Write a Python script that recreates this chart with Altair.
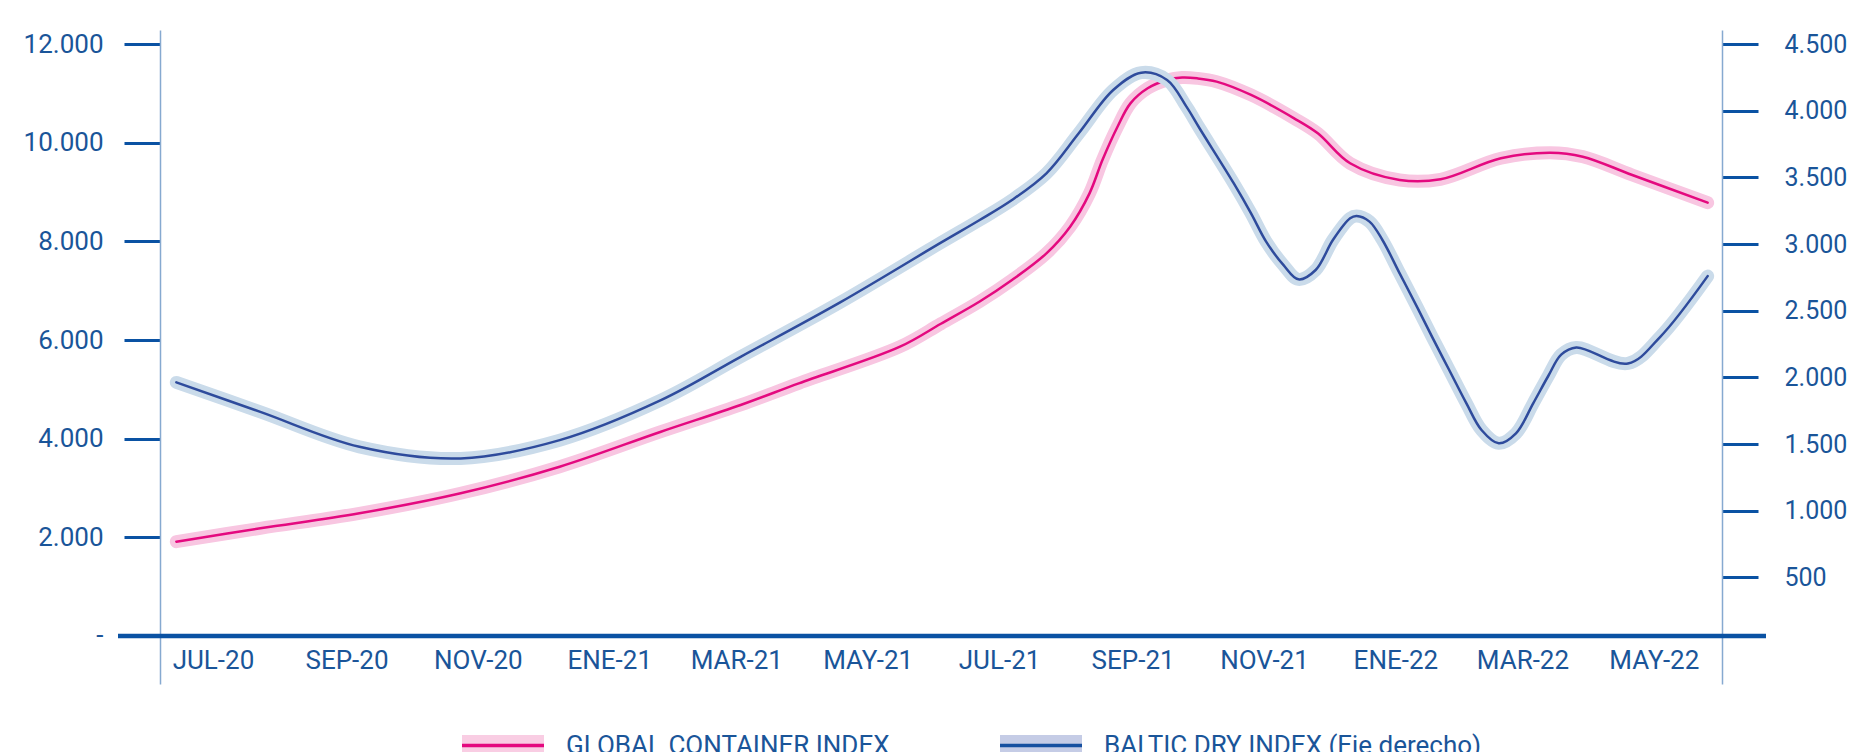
import altair as alt
import pandas as pd

# ---------------- data ----------------
gci_dates = ["2020-06-14", "2020-07-23", "2020-09-07", "2020-10-24", "2020-12-09",
             "2021-01-25", "2021-03-03", "2021-03-30", "2021-05-16", "2021-06-04",
             "2021-06-22", "2021-07-07", "2021-07-23", "2021-08-03", "2021-08-12",
             "2021-08-18", "2021-08-25", "2021-08-31", "2021-09-08", "2021-09-17",
             "2021-09-24", "2021-10-01", "2021-10-10", "2021-10-26", "2021-11-15",
             "2021-11-26", "2021-12-11", "2022-01-03", "2022-01-22", "2022-02-19",
             "2022-03-14", "2022-03-29", "2022-04-21", "2022-05-26"]
gci_values = [1912, 2183, 2487, 2893, 3432,
              4141, 4683, 5122, 5864, 6330,
              6780, 7216, 7757, 8297, 8973,
              9649, 10324, 10797, 11102, 11270,
              11320, 11304, 11237, 10967, 10494,
              10190, 9582, 9244, 9258, 9684,
              9797, 9716, 9345, 8784]

bdi_dates = ["2020-06-14", "2020-07-23", "2020-09-07", "2020-10-24", "2020-12-09",
             "2021-01-25", "2021-03-03", "2021-04-18", "2021-06-04", "2021-06-22",
             "2021-07-07", "2021-07-23", "2021-08-07", "2021-08-23", "2021-09-05",
             "2021-09-17", "2021-09-26", "2021-10-02", "2021-10-18", "2021-10-26",
             "2021-11-02", "2021-11-10", "2021-11-17", "2021-11-25", "2021-12-03",
             "2021-12-11", "2021-12-14", "2021-12-20", "2021-12-26", "2022-01-03",
             "2022-01-11", "2022-01-18", "2022-01-26", "2022-02-03", "2022-02-10",
             "2022-02-18", "2022-02-26", "2022-03-06", "2022-03-13", "2022-03-19",
             "2022-03-26", "2022-04-19", "2022-05-04", "2022-05-26"]
bdi_values = [1962, 1741, 1479, 1392, 1529,
              1829, 2154, 2560, 3010, 3180,
              3330, 3530, 3830, 4155, 4285,
              4230, 4030, 3870, 3454, 3230,
              3018, 2843, 2735, 2805, 3030,
              3193, 3210, 3168, 3030, 2780,
              2530, 2305, 2055, 1805, 1605,
              1505, 1580, 1805, 2010, 2170,
              2224, 2104, 2304, 2759]

x_tick_months = [(2020, 7), (2020, 9), (2020, 11), (2021, 1), (2021, 3), (2021, 5),
                 (2021, 7), (2021, 9), (2021, 11), (2022, 1), (2022, 3), (2022, 5)]
x_labels = ["JUL-20", "SEP-20", "NOV-20", "ENE-21", "MAR-21", "MAY-21",
            "JUL-21", "SEP-21", "NOV-21", "ENE-22", "MAR-22", "MAY-22"]
left_ticks = [0, 2000, 4000, 6000, 8000, 10000, 12000]
right_ticks = [500, 1000, 1500, 2000, 2500, 3000, 3500, 4000, 4500]
series_names = ["GLOBAL CONTAINER INDEX", "BALTIC DRY INDEX (Eje derecho)"]

# ---------------- styles ----------------
TEXT = "#1a5599"
TICK = "#0a52a3"
AXISLINE = "#86a9d0"
PINK = "#e4097f"
PINK_HALO = "#f8c6e1"
BLUE = "#2e4b9c"
BLUE_HALO = "#cadbea"
NUM_FONT = "Roboto"
CAT_FONT = "Roboto"
INTERP = "catmull-rom"

W, H = 1562, 654

gci = pd.DataFrame({"fecha": gci_dates, "valor": gci_values})
bdi = pd.DataFrame({"fecha": bdi_dates, "valor": bdi_values})

labels_js = "[" + ",".join("'%s'" % s for s in x_labels) + "]"
x_label_expr = ("%s[floor(((utcyear(datum.value)-%d)*12 + utcmonth(datum.value) - %d)/2)]"
                % (labels_js, x_tick_months[0][0], x_tick_months[0][1] - 1))

x_enc = alt.X(
    "fecha:T",
    scale=alt.Scale(type="utc", domain=[
        alt.DateTime(year=2020, month=6, date=6, hours=10, utc=True),
        alt.DateTime(year=2022, month=6, date=1, hours=16, utc=True)]),
    axis=alt.Axis(orient="bottom", offset=-48, domain=False, ticks=False, grid=False,
                  values=[alt.DateTime(year=y, month=m, date=1, utc=True) for y, m in x_tick_months],
                  labelExpr=x_label_expr, labelFont=CAT_FONT, labelFontSize=26,
                  labelColor=TEXT, labelPadding=11, title=None,
                  labelOverlap=False, labelFlush=False),
)

num_expr = "datum.value == 0 ? '-' : replace(format(datum.value, ','), ',', '.')"

left_scale = alt.Scale(domain=[-973, 12284], nice=False, zero=False)
left_axis = alt.Axis(orient="left", values=left_ticks, title=None, grid=False,
                     domainColor=AXISLINE, domainWidth=1.5, tickColor=TICK, tickWidth=3,
                     tickSize=36, labelPadding=21, labelFont=NUM_FONT, labelFontSize=26,
                     labelColor=TEXT, labelExpr=num_expr)
right_scale = alt.Scale(domain=[-300, 4605], nice=False, zero=False)
right_axis = alt.Axis(orient="right", values=right_ticks, title=None, grid=False,
                      domainColor=AXISLINE, domainWidth=1.5, tickColor=TICK, tickWidth=3,
                      tickSize=36, labelPadding=26, labelFont=NUM_FONT, labelFontSize=25,
                      labelColor=TEXT, labelExpr=num_expr)

base_p = alt.Chart(gci).encode(x=x_enc, y=alt.Y("valor:Q", scale=left_scale, axis=left_axis))
halo_p = base_p.mark_line(color=PINK_HALO, strokeWidth=13, strokeCap="round", interpolate=INTERP)
line_p = base_p.mark_line(color=PINK, strokeWidth=2.5, strokeCap="round", interpolate=INTERP)

baseline = alt.Chart(pd.DataFrame({"v": [0]})).mark_rule(color=TICK, strokeWidth=4.5).encode(
    y=alt.Y("v:Q", scale=left_scale, axis=left_axis),
    x=alt.value(-42), x2=alt.value(W + 44))

left_layer = alt.layer(halo_p, line_p, baseline)

base_b = alt.Chart(bdi).encode(x=x_enc, y=alt.Y("valor:Q", scale=right_scale, axis=right_axis))
halo_b = base_b.mark_line(color=BLUE_HALO, strokeWidth=13, strokeCap="round", interpolate=INTERP)
line_b = base_b.mark_line(color=BLUE, strokeWidth=2.5, strokeCap="round", interpolate=INTERP)
right_layer = alt.layer(halo_b, line_b)

# ---------------- manual legend ----------------
leg_df = pd.DataFrame({"s": series_names})
def legend_item(i, x0, fill, line):
    d = alt.Chart(leg_df).transform_filter(alt.datum.s == series_names[i])
    rect = d.mark_rect(color=fill).encode(x=alt.value(x0), x2=alt.value(x0 + 82),
                                           y=alt.value(705), y2=alt.value(726))
    rl = d.mark_rule(color=line, strokeWidth=3.5).encode(x=alt.value(x0), x2=alt.value(x0 + 82),
                                                         y=alt.value(715.5))
    tx = d.mark_text(align="left", baseline="middle", font=CAT_FONT, fontSize=26,
                     color=TEXT).encode(x=alt.value(x0 + 104), y=alt.value(716), text="s:N")
    return [rect, rl, tx]

legend_marks = legend_item(0, 302, "#f9cde3", PINK) + legend_item(1, 840, "#c5cce6", "#1650a0")

chart = alt.layer(left_layer, right_layer, *legend_marks).resolve_scale(y="independent").properties(
    width=W, height=H,
    autosize=alt.AutoSizeParams(type="none"),
    padding={"left": 152, "top": 22, "right": 126, "bottom": 80},
    background="white",
).configure_view(stroke=None)

chart.save("out.html", embed_options={"renderer": "svg", "actions": False})
